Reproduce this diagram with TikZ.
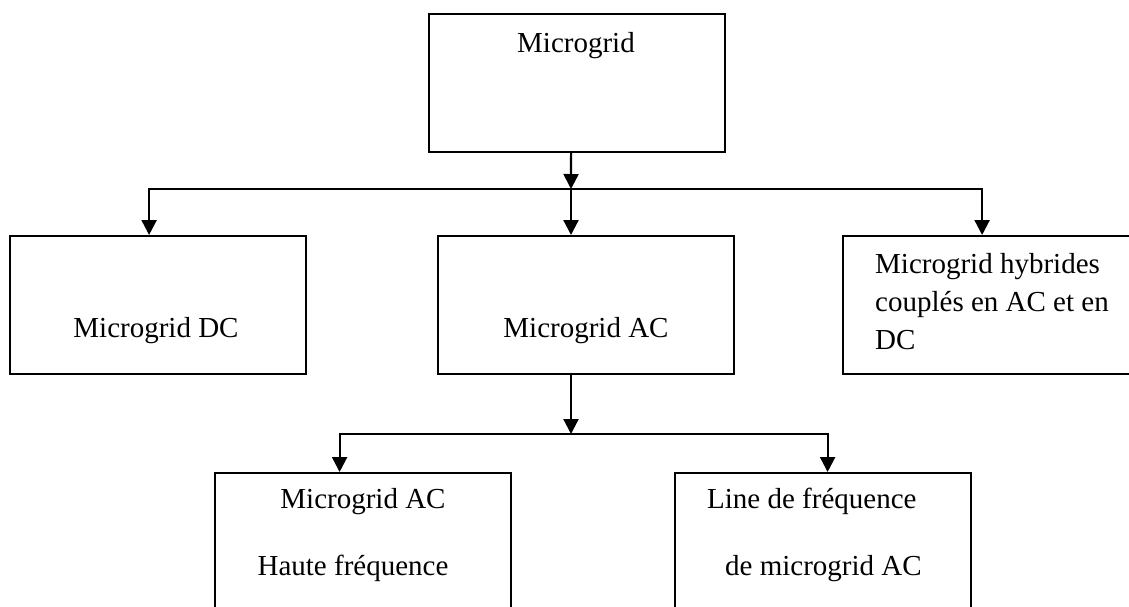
\documentclass[tikz,border=0pt]{standalone}
\usepackage{fontspec}
\setmainfont{Liberation Serif}
\usetikzlibrary{arrows.meta,positioning}

\tikzstyle{block} = [rectangle, draw=black, line width=2.2pt, minimum width=296pt, minimum height=138pt, inner sep=0pt, anchor=north west]
\tikzstyle{boxtext} = [inner sep=0pt, font=\fontsize{29}{38}\selectfont]
\tikzstyle{arrow} = [line width=2.2pt, -{Triangle[length=15pt,width=15pt]}]

\begin{document}
\begin{tikzpicture}[x=1pt, y=-1pt]
	\useasboundingbox (0,0) rectangle (1129,606);
	\clip (0,0) rectangle (1129,606);

	\node (microgrid) [block] at (428,13) {};
	\node (mgDC) [block] at (9,235) {};
	\node (mgAC) [block] at (437,235) {};
	\node (mgHybrid) [block] at (842,235) {};
	\node (mgHF) [block] at (214,472) {};
	\node (mgLF) [block] at (674,472) {};

	\node (microgridText) [boxtext, anchor=base] at (576,52) {Microgrid};
	\node (mgDCText) [boxtext, anchor=base] at (156,337) {Microgrid DC};
	\node (mgACText) [boxtext, anchor=base] at (586,337) {Microgrid AC};
	\node (mgHybridText) [boxtext, anchor=base west, align=left] at (875,349) {Microgrid hybrides\\couplés en AC et en\\DC};
	\node (mgHFText1) [boxtext, anchor=base] at (363,508) {Microgrid AC};
	\node (mgHFText2) [boxtext, anchor=base] at (353,575) {Haute fréquence};
	\node (mgLFText1) [boxtext, anchor=base west] at (707,508) {Line de fréquence};
	\node (mgLFText2) [boxtext, anchor=base west] at (725,575) {de microgrid AC};

	\coordinate (busTop) at (571,189);
	\coordinate (busBottom) at (571,434);

	\draw [arrow] ([xshift=-6pt]microgrid.south) -- (busTop);
	\draw [arrow] (busTop) -| ([xshift=-9pt]mgDC.north);
	\draw [arrow] (busTop) -| ([xshift=-9pt]mgHybrid.north);
	\draw [arrow] (busTop) -- (busTop |- mgAC.north);
	\draw [arrow] (mgAC.south -| busBottom) -- (busBottom);
	\draw [arrow] (busBottom) -| ([xshift=-23.5pt]mgHF.north);
	\draw [arrow] (busBottom) -| ([xshift=4.5pt]mgLF.north);
	\end{tikzpicture}
\end{document}
